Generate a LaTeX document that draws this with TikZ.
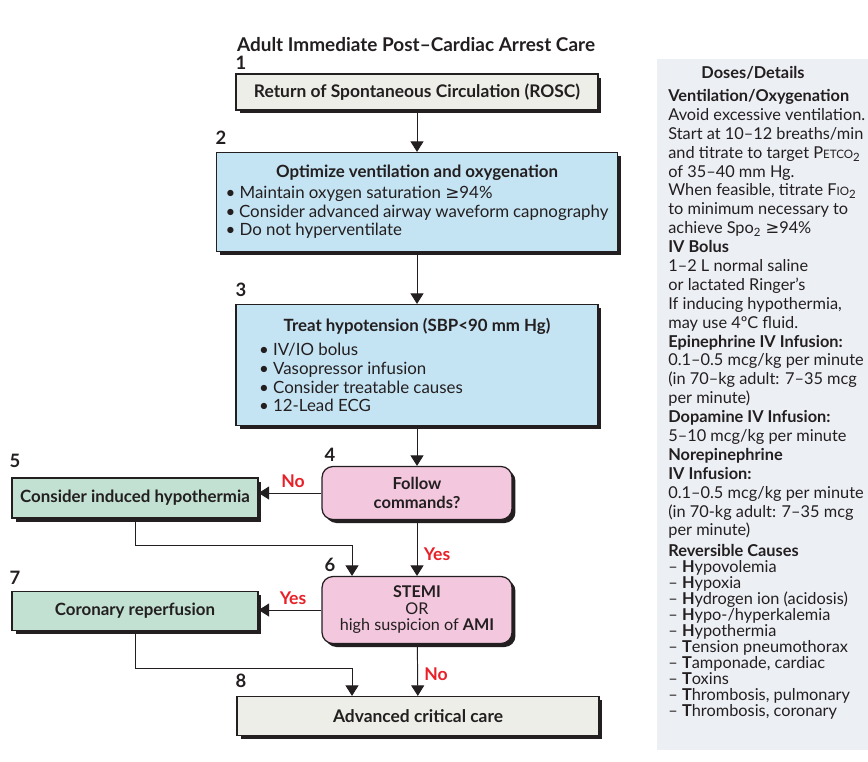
\documentclass[tikz,border=0pt]{standalone}
\usepackage{fontspec}
\setmainfont{Lato}
\newfontfamily\symfont{DejaVu Sans}
\usetikzlibrary{arrows.meta,shadows}

\definecolor{ink}{RGB}{35,31,32}
\definecolor{roscgray}{RGB}{236,238,231}
\definecolor{stepblue}{RGB}{197,228,243}
\definecolor{askpink}{RGB}{243,199,221}
\definecolor{actgreen}{RGB}{194,225,210}
\definecolor{panelgray}{RGB}{236,239,244}
\definecolor{ansred}{RGB}{232,32,40}

% small caps for the gas symbols
\newcommand{\smc}[1]{{\fontsize{6.6}{7}\selectfont #1}}
\newcommand{\geqsym}{{\symfont ≥}}

\tikzset{
  box/.style={draw=ink, line width=0.7pt, inner sep=0pt, text=ink,
    drop shadow={shadow xshift=0.07cm, shadow yshift=-0.07cm, fill=ink, opacity=1}},
  endbox/.style={box, fill=roscgray, minimum width=7.24cm,
    font=\bfseries\fontsize{9.9}{11}\selectfont},
  stepbox/.style={box, fill=stepblue, align=center,
    font=\fontsize{9.6}{10.7}\selectfont},
  askbox/.style={box, fill=askpink, rounded corners=0.22cm, minimum width=3.8cm,
    align=center},
  actbox/.style={box, fill=actgreen, minimum width=4.92cm,
    font=\bfseries\fontsize{9.6}{11}\selectfont},
  num/.style={font=\bfseries\fontsize{10.5}{12}\selectfont, text=ink, inner sep=0pt},
  ans/.style={font=\bfseries\fontsize{10}{12}\selectfont, text=ansred, inner sep=0pt},
  arr/.style={draw=ink, line width=0.55pt, -{Triangle[length=2.1mm,width=2.6mm]}},
  dose/.style={anchor=north west, inner sep=0pt, align=left, text=ink},
}

\begin{document}
\begin{tikzpicture}[x=0.02cm,y=-0.02cm]
  \useasboundingbox (0,0) rectangle (868,761);
  \node[font=\bfseries\fontsize{10.8}{12}\selectfont, text=ink, inner sep=0pt]
    (title) at (416,45) {Adult Immediate Post–Cardiac Arrest Care};

  % main column
  \node[endbox, minimum height=0.72cm] (rosc) at (417,92)
    {Return of Spontaneous Circulation (ROSC)};
  \node[stepbox, minimum width=8.02cm, minimum height=1.98cm] (vent) at (417,202)
    {{\bfseries Optimize ventilation and oxygenation}\\[2pt]
     \parbox{7.66cm}{\raggedright
       • Maintain oxygen saturation \geqsym94\%\\
       • Consider advanced airway waveform capnography\\
       • Do not hyperventilate}};
  \node[stepbox, minimum width=7.24cm, minimum height=2.42cm] (tension) at (417,365)
    {{\bfseries Treat hypotension (SBP<90 mm Hg)}\\[4pt]
     \parbox{6.32cm}{\raggedright
       • IV/IO bolus\\
       • Vasopressor infusion\\
       • Consider treatable causes\\
       • 12-Lead ECG}};
  \node[askbox, minimum height=1.06cm, font=\bfseries\fontsize{9.4}{11}\selectfont]
    (follow) at (417,493) {Follow\\commands?};
  \node[askbox, minimum height=1.34cm, font=\fontsize{9.2}{9.4}\selectfont]
    (stemi) at (417,610) {\textbf{STEMI}\\OR\\high suspicion of \textbf{AMI}};
  \node[endbox, minimum height=0.78cm] (critical) at (418,716)
    {Advanced critical care};

  % side actions
  \node[actbox, minimum height=0.8cm] (cool) at (135,498) {Consider induced hypothermia};
  \node[actbox, minimum height=0.78cm] (reperf) at (135,611) {Coronary reperfusion};

  % step numbers
  \node[num] (n1) at (241,63) {1};
  \node[num] (n2) at (221,138) {2};
  \node[num] (n3) at (241,290) {3};
  \node[num] (n4) at (330,455) {4};
  \node[num] (n5) at (15,461) {5};
  \node[num] (n6) at (330,565) {6};
  \node[num] (n7) at (15,578) {7};
  \node[num] (n8) at (241,681) {8};

  % connectors
  \coordinate (e1) at (352,545);
  \coordinate (e2) at (352,668);
  \draw[arr] (rosc) -- (vent);
  \draw[arr] (vent) -- (tension);
  \draw[arr] (tension) -- (follow);
  \draw[arr] (follow.west) -- (follow.west -| cool.east);
  \draw[arr] (follow) -- (stemi);
  \draw[arr] (cool.south) |- (e1) -- (e1 |- stemi.north);
  \draw[arr] (stemi.west) -- (stemi.west -| reperf.east);
  \draw[arr] (stemi) -- (critical);
  \draw[arr] (reperf.south) |- (e2) -- (e2 |- critical.north);
  \node[ans] (no1) at (293,481) {No};
  \node[ans] (yes1) at (437,554) {Yes};
  \node[ans] (yes2) at (293,598) {Yes};
  \node[ans] (no2) at (436,674) {No};

  % doses panel
  \fill[panelgray] (657,59) rectangle (870,750);
  \node[font=\bfseries\fontsize{9.3}{10}\selectfont, text=ink] (doses) at (753,73)
    {Doses/Details};
  \node[dose, font=\fontsize{9.3}{10.75}\selectfont] (dosetext) at (668,89)
    {\textbf{Ventilation/Oxygenation}\\
     Avoid excessive ventilation.\\
     Start at 10–12 breaths/min\\
     and titrate to target P\smc{ETCO}\textsubscript{2}\\
     of 35–40 mm Hg.\\
     When feasible, titrate F\smc{IO}\textsubscript{2}\\
     to minimum necessary to\\
     achieve Spo\textsubscript{2} \geqsym94\%\\
     \textbf{IV Bolus}\\
     1–2 L normal saline\\
     or lactated Ringer’s\\
     If inducing hypothermia,\\
     may use 4ºC fluid.\\
     \textbf{Epinephrine IV Infusion:}\\
     0.1–0.5 mcg/kg per minute\\
     (in 70–kg adult: 7–35 mcg\\
     per minute)\\
     \textbf{Dopamine IV Infusion:}\\
     5–10 mcg/kg per minute\\
     \textbf{Norepinephrine}\\
     \textbf{IV Infusion:}\\
     0.1–0.5 mcg/kg per minute\\
     (in 70-kg adult: 7–35 mcg\\
     per minute)};
  \node[dose, font=\fontsize{9.3}{9.1}\selectfont] (causes) at (668,544)
    {\textbf{Reversible Causes}\\
     – \textbf{H}ypovolemia\\
     – \textbf{H}ypoxia\\
     – \textbf{H}ydrogen ion (acidosis)\\
     – \textbf{H}ypo-/hyperkalemia\\
     – \textbf{H}ypothermia\\
     – \textbf{T}ension pneumothorax\\
     – \textbf{T}amponade, cardiac\\
     – \textbf{T}oxins\\
     – \textbf{T}hrombosis, pulmonary\\
     – \textbf{T}hrombosis, coronary};
\end{tikzpicture}
\end{document}
